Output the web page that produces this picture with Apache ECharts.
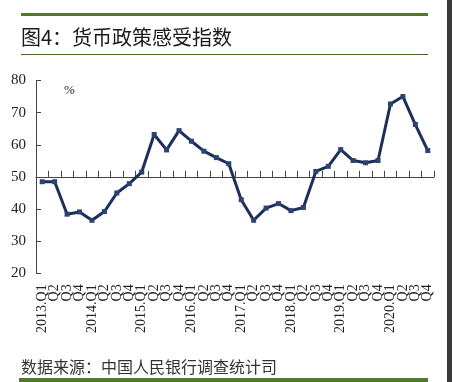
<!DOCTYPE html>
<html>
<head>
<meta charset="utf-8">
<script src="https://cdn.jsdelivr.net/npm/echarts@6/dist/echarts.min.js"></script>
<style>
html,body{margin:0;padding:0;background:#fff;}
#c{width:452px;height:382px;}
</style>
</head>
<body>
<div id="c"></div>
<script>
var titleText = '图4：货币政策感受指数';
var sourceText = '数据来源：中国人民银行调查统计司';
var unitText = '%';
var categories = [
  '2013.Q1','Q2','Q3','Q4',
  '2014.Q1','Q2','Q3','Q4',
  '2015.Q1','Q2','Q3','Q4',
  '2016.Q1','Q2','Q3','Q4',
  '2017.Q1','Q2','Q3','Q4',
  '2018.Q1','Q2','Q3','Q4',
  '2019.Q1','Q2','Q3','Q4',
  '2020.Q1','Q2','Q3','Q4'
];
var indexValues = [
  48.5, 48.5, 38.4, 39.1,
  36.5, 39.2, 45.0, 47.9,
  51.5, 63.2, 58.4, 64.4,
  61.1, 58.0, 56.0, 54.1,
  42.9, 36.5, 40.3, 41.7,
  39.5, 40.5, 51.7, 53.3,
  58.5, 55.1, 54.4, 55.1,
  72.7, 75.0, 66.3, 58.2
];
var yMin = 20, yMax = 80, yStep = 10;
var baseLevel = 50;

var chart = echarts.init(document.getElementById('c'), null, {renderer: 'canvas'});
var green = '#4e7a2a';
var axisColor = '#444';
var serif = '"Liberation Serif", "Times New Roman", serif';
var cjk = '"Noto Sans CJK SC", sans-serif';

chart.setOption({
  backgroundColor: '#fff',
  animation: false,
  grid: {left: 36, right: 18, top: 80.5, bottom: 108.7, containLabel: false},
  xAxis: [
    {
      type: 'category', data: categories, position: 'bottom', boundaryGap: true,
      axisLine: {show: false, onZero: false},
      axisTick: {show: false},
      axisLabel: {interval: 0, rotate: 90, margin: 11, fontFamily: serif, fontSize: 14, color: '#222'}
    },
    {
      type: 'category', data: categories, position: 'bottom', boundaryGap: true,
      axisLine: {show: true, onZero: true, onZeroAxisIndex: 1, lineStyle: {color: axisColor, width: 1}},
      axisTick: {show: true, inside: true, length: 6, interval: 0, lineStyle: {color: axisColor}},
      axisLabel: {show: false}
    }
  ],
  yAxis: [
    {
      type: 'value', min: yMin, max: yMax, interval: yStep,
      axisLine: {show: true, onZero: false, lineStyle: {color: axisColor, width: 1}},
      axisTick: {show: true, inside: true, length: 5, lineStyle: {color: axisColor}},
      splitLine: {show: false},
      axisLabel: {margin: 10, fontFamily: serif, fontSize: 15, color: '#222'}
    },
    {
      type: 'value', min: yMin - baseLevel, max: yMax - baseLevel, show: false,
      splitLine: {show: false}
    }
  ],
  series: [{
    type: 'line', data: indexValues, xAxisIndex: 0, yAxisIndex: 0,
    symbol: 'rect', symbolSize: 5, showSymbol: true,
    lineStyle: {color: '#1c2f5a', width: 3},
    itemStyle: {color: '#2c4270', borderColor: '#2c4270', borderWidth: 0}
  }],
  graphic: [
    {type: 'rect', shape: {x: 21, y: 13, width: 407, height: 3}, style: {fill: green}},
    {type: 'text', left: 21, top: 27, style: {text: titleText, font: '20px ' + cjk, fill: '#1a1a1a'}},
    {type: 'rect', shape: {x: 21, y: 54, width: 407, height: 1}, style: {fill: '#3f6a25'}},
    {type: 'text', left: 64, top: 84, style: {text: unitText, font: '13px ' + serif, fill: '#222'}},
    {type: 'text', left: 21, top: 359, style: {text: sourceText, font: '16px ' + cjk, fill: '#333'}},
    {type: 'rect', shape: {x: 19, y: 378, width: 409, height: 4}, style: {fill: green}},
    {type: 'rect', shape: {x: 447, y: 0, width: 5, height: 382}, style: {fill: '#3a3a3a'}}
  ]
});
</script>
</body>
</html>
